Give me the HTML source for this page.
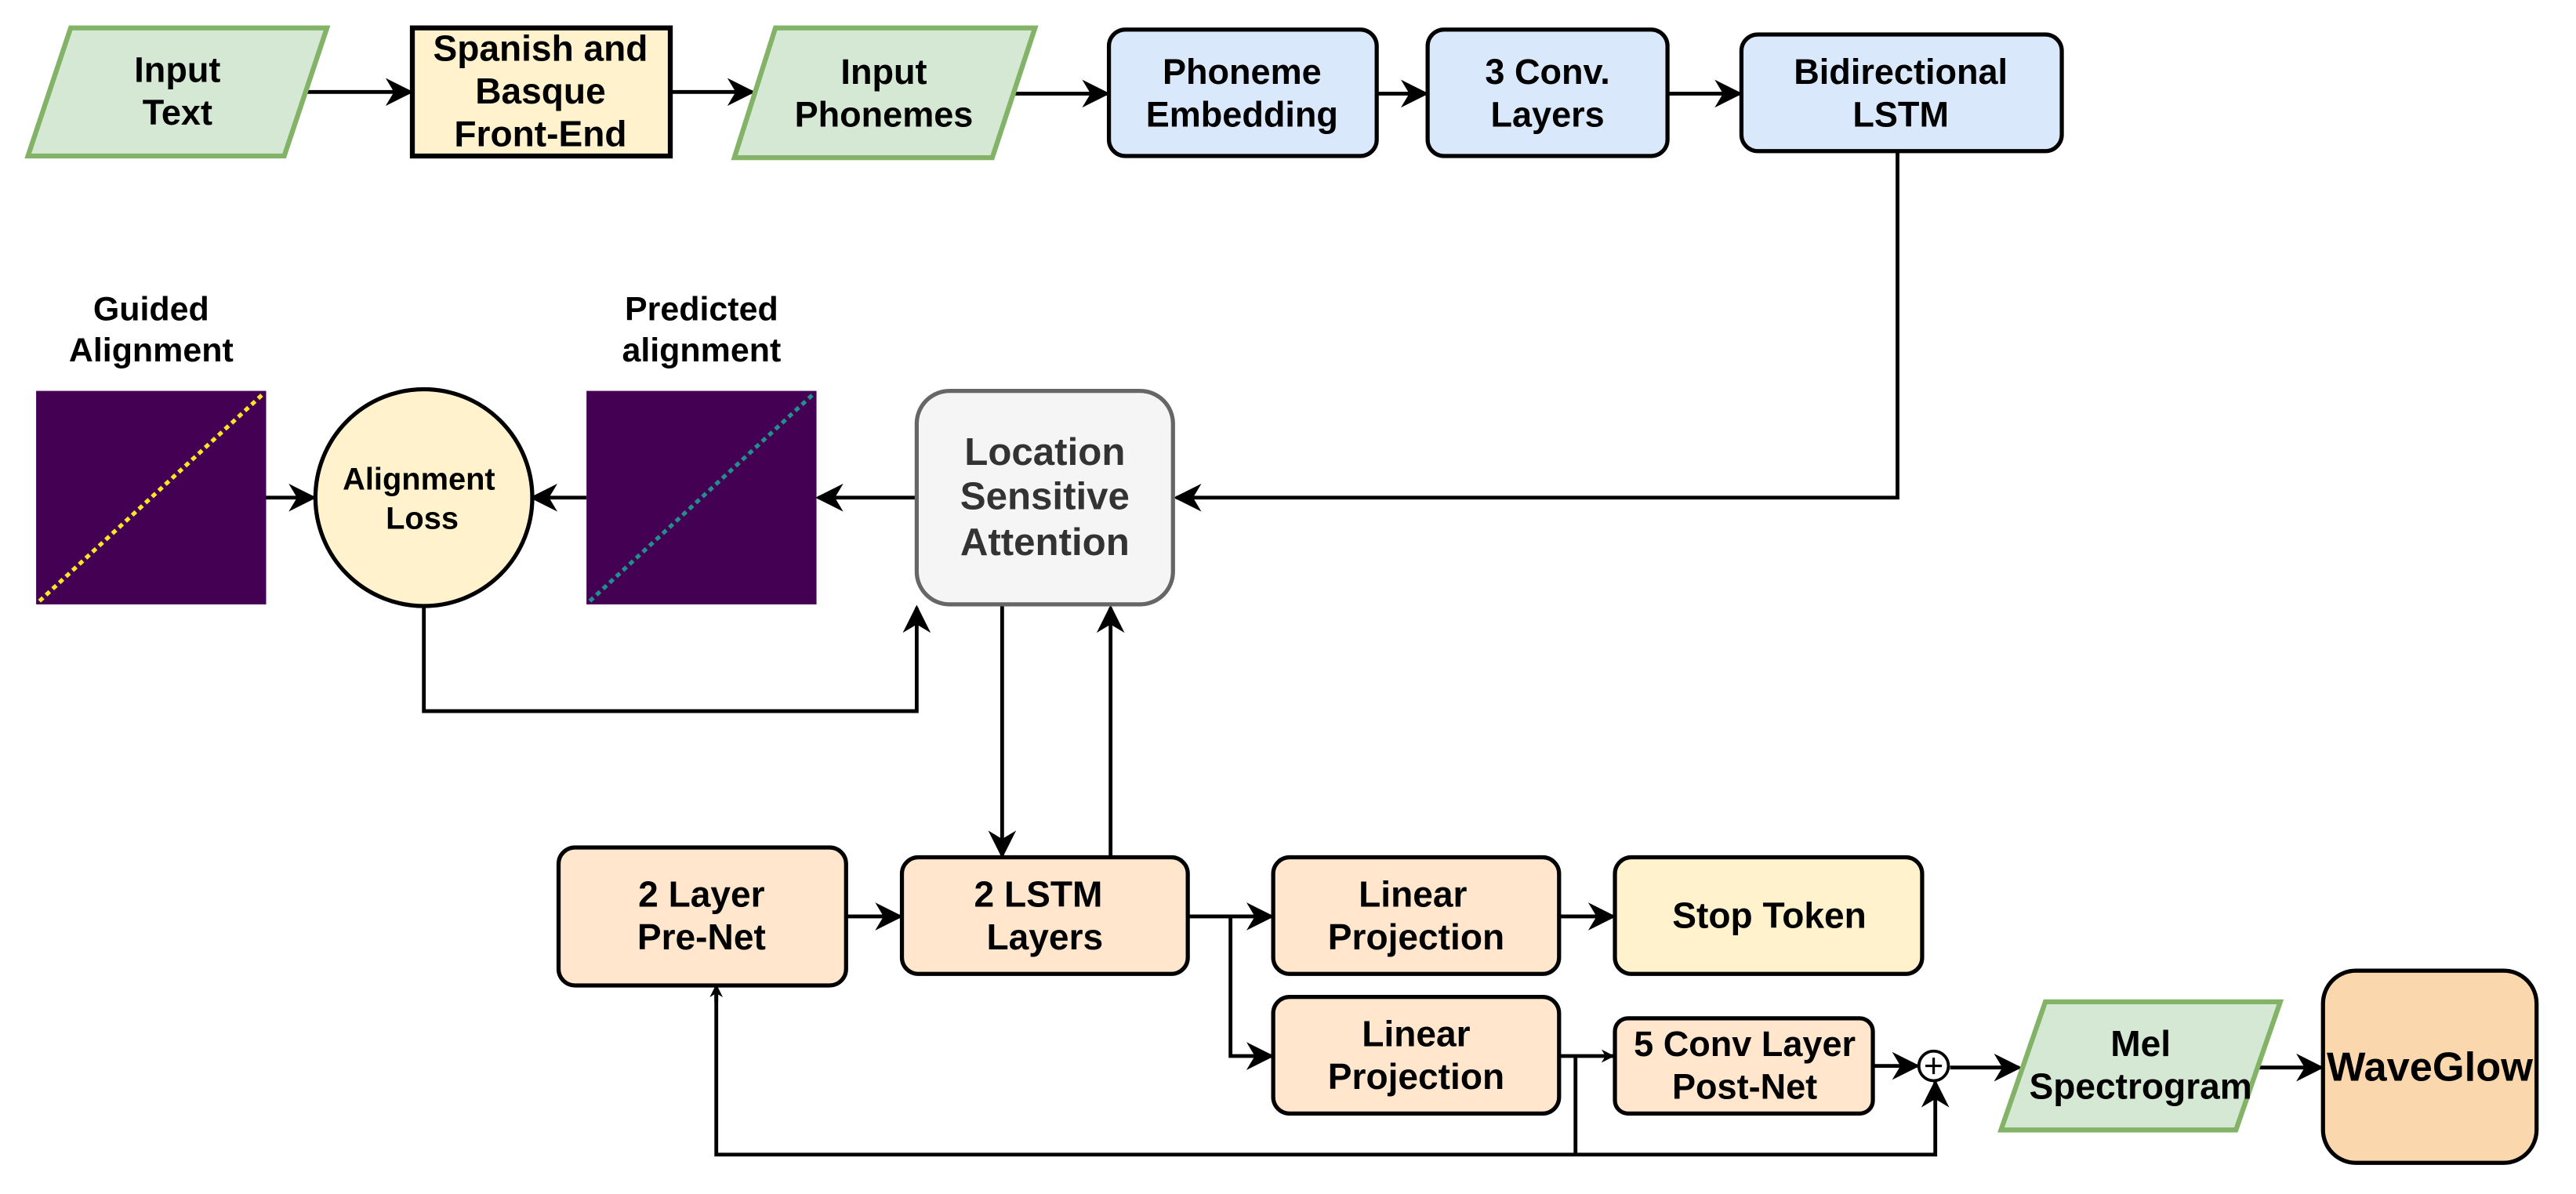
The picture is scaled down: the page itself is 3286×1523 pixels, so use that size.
<!DOCTYPE html>
<html><head><meta charset="utf-8"><style>
html,body{margin:0;padding:0;background:#fff;}
svg{display:block;}
text{font-family:"Liberation Sans",Arial,sans-serif;font-weight:bold;text-anchor:middle;}
</style></head><body>
<svg width="3286" height="1523" viewBox="0 0 1568 727" preserveAspectRatio="none" xmlns="http://www.w3.org/2000/svg">
<defs>
<marker id="a" viewBox="0 0 10 10" refX="9" refY="5" markerWidth="8" markerHeight="8" markerUnits="userSpaceOnUse" orient="auto">
<path d="M0,0 L10,5 L0,10 L3,5 Z" fill="#000"/></marker>
<marker id="b" viewBox="0 0 10 10" refX="9" refY="5" markerWidth="17" markerHeight="17" markerUnits="userSpaceOnUse" orient="auto">
<path d="M0,0 L10,5 L0,10 L3,5 Z" fill="#000"/></marker>
</defs>
<g fill="none" stroke="#000" stroke-width="2.3">
<line x1="187" y1="56" x2="250" y2="56" marker-end="url(#b)"/>
<line x1="408" y1="56" x2="458" y2="56" marker-end="url(#b)"/>
<line x1="618" y1="57" x2="674" y2="57" marker-end="url(#b)"/>
<line x1="838" y1="57" x2="868" y2="57" marker-end="url(#b)"/>
<line x1="1015" y1="57" x2="1059" y2="57" marker-end="url(#b)"/>
<polyline points="1155,92 1155,303 716,303" marker-end="url(#b)"/>
<line x1="558" y1="303" x2="498" y2="303" marker-end="url(#b)"/>
<line x1="357" y1="303" x2="324" y2="303" marker-end="url(#b)"/>
<line x1="162" y1="303" x2="191" y2="303" marker-end="url(#b)"/>
<polyline points="258,369 258,433 558,433 558,370" marker-end="url(#b)"/>
<line x1="610" y1="368" x2="610" y2="521" marker-end="url(#b)"/>
<line x1="676" y1="522" x2="676" y2="370" marker-end="url(#b)"/>
<line x1="515" y1="558" x2="548" y2="558" marker-end="url(#b)"/>
<line x1="723" y1="558" x2="774" y2="558" marker-end="url(#b)"/>
<polyline points="749,558 749,643 774,643" marker-end="url(#b)"/>
<line x1="949" y1="558" x2="982" y2="558" marker-end="url(#b)"/>
<line x1="949" y1="643" x2="982" y2="643" marker-end="url(#a)"/>
<line x1="959" y1="643" x2="959" y2="703"/>
<polyline points="436,602 436,703 1178,703 1178,659" marker-end="url(#b)"/>
<line x1="436" y1="610" x2="436" y2="600" marker-end="url(#a)"/>
<line x1="1140" y1="649" x2="1167" y2="649" marker-end="url(#b)"/>
<line x1="1187" y1="650" x2="1229" y2="650" marker-end="url(#b)"/>
<line x1="1375" y1="650" x2="1413" y2="650" marker-end="url(#b)"/>
</g>
<polygon points="17,95 43,17 199,17 173,95" fill="#d5e8d4" stroke="#82b366" stroke-width="3"/>
<text x="108" y="50" font-size="21.5">Input</text><text x="108" y="76" font-size="21.5">Text</text>
<rect x="251" y="17" width="157" height="78" fill="#fff2cc" stroke="#000" stroke-width="3"/>
<text x="329" y="37" font-size="22">Spanish and</text><text x="329" y="63" font-size="22">Basque</text><text x="329" y="89" font-size="22">Front-End</text>
<polygon points="447,96 472,17 630,17 604,96" fill="#d5e8d4" stroke="#82b366" stroke-width="3"/>
<text x="538" y="51" font-size="21.5">Input</text><text x="538" y="77" font-size="21.5">Phonemes</text>
<rect x="675" y="18" width="163" height="77" rx="10" fill="#dae8fc" stroke="#000" stroke-width="2.5"/>
<text x="756" y="51" font-size="21.5">Phoneme</text><text x="756" y="77" font-size="21.5">Embedding</text>
<rect x="869" y="18" width="146" height="77" rx="10" fill="#dae8fc" stroke="#000" stroke-width="2.5"/>
<text x="942" y="51" font-size="21.5">3 Conv.</text><text x="942" y="77" font-size="21.5">Layers</text>
<rect x="1060" y="21" width="195" height="71" rx="10" fill="#dae8fc" stroke="#000" stroke-width="2.5"/>
<text x="1157" y="51" font-size="21.5">Bidirectional</text><text x="1157" y="77" font-size="21.5">LSTM</text>
<text x="92" y="195" font-size="20.5">Guided</text><text x="92" y="220" font-size="20.5">Alignment</text>
<text x="427" y="195" font-size="20.5">Predicted</text><text x="427" y="220" font-size="20.5">alignment</text>
<rect x="22" y="238" width="140" height="130" fill="#440154"/>
<line x1="24" y1="366" x2="160" y2="240" stroke="#fde725" stroke-width="2.5" stroke-dasharray="3 2.5"/>
<rect x="357" y="238" width="140" height="130" fill="#440154"/>
<line x1="359" y1="366" x2="495" y2="240" stroke="#21908d" stroke-width="2.5" stroke-dasharray="3 2.5"/>
<ellipse cx="258" cy="303" rx="66" ry="66" fill="#fff2cc" stroke="#000" stroke-width="2.5"/>
<text x="255" y="298" font-size="19">Alignment</text><text x="257" y="322" font-size="19">Loss</text>
<rect x="558" y="238" width="156" height="130" rx="20" fill="#f5f5f5" stroke="#666" stroke-width="2.5"/>
<g fill="#333"><text x="636" y="283" font-size="23.5">Location</text><text x="636" y="310" font-size="23.5">Sensitive</text><text x="636" y="338" font-size="23.5">Attention</text></g>
<rect x="340" y="516" width="175" height="84" rx="10" fill="#ffe6cc" stroke="#000" stroke-width="2.5"/>
<text x="427" y="552" font-size="22">2 Layer</text><text x="427" y="578" font-size="22">Pre-Net</text>
<rect x="549" y="522" width="174" height="71" rx="10" fill="#ffe6cc" stroke="#000" stroke-width="2.5"/>
<text x="632" y="552" font-size="22">2 LSTM</text><text x="636" y="578" font-size="22">Layers</text>
<rect x="775" y="522" width="174" height="71" rx="10" fill="#ffe6cc" stroke="#000" stroke-width="2.5"/>
<text x="860" y="552" font-size="22">Linear</text><text x="862" y="578" font-size="22">Projection</text>
<rect x="983" y="522" width="187" height="71" rx="10" fill="#fff2cc" stroke="#000" stroke-width="2.5"/>
<text x="1077" y="565" font-size="22">Stop Token</text>
<rect x="775" y="607" width="174" height="71" rx="10" fill="#ffe6cc" stroke="#000" stroke-width="2.5"/>
<text x="862" y="637" font-size="22">Linear</text><text x="862" y="663" font-size="22">Projection</text>
<rect x="983" y="620" width="157" height="58" rx="8" fill="#ffe6cc" stroke="#000" stroke-width="2.5"/>
<text x="1062" y="643" font-size="21.5">5 Conv Layer</text><text x="1062" y="669" font-size="21.5">Post-Net</text>
<circle cx="1177" cy="649" r="9" fill="#fff" stroke="#000" stroke-width="1.8"/>
<line x1="1172" y1="649" x2="1182" y2="649" stroke="#000" stroke-width="1.5"/>
<line x1="1177" y1="644" x2="1177" y2="654" stroke="#000" stroke-width="1.5"/>
<polygon points="1218,688 1245,610 1388,610 1361,688" fill="#d5e8d4" stroke="#82b366" stroke-width="3"/>
<text x="1303" y="643" font-size="22">Mel</text><text x="1303" y="669" font-size="22">Spectrogram</text>
<rect x="1414" y="591" width="130" height="117" rx="20" fill="#fad7ac" stroke="#000" stroke-width="2.5"/>
<text x="1479" y="658" font-size="25">WaveGlow</text>
</svg>
</body></html>
